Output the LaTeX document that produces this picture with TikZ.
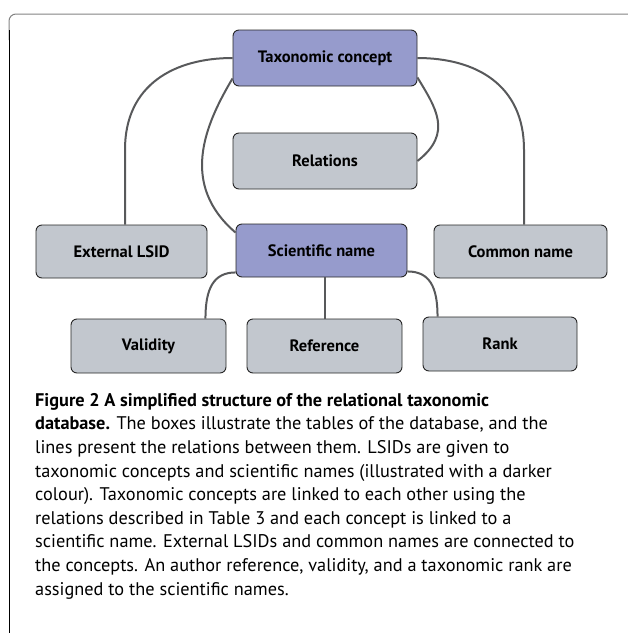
\documentclass[tikz,border=0pt]{standalone}
\usepackage{fontspec}
\setmainfont{PT Sans}
\usetikzlibrary{calc}
\definecolor{boxdark}{RGB}{150,155,204}
\definecolor{boxlight}{RGB}{194,199,206}
\definecolor{linkgray}{RGB}{88,89,91}
\definecolor{framegray}{RGB}{130,130,130}
\tikzset{
  tbl/.style={draw=black!85, line width=0.9pt, rounded corners=6pt, fill=boxlight,
    font=\fontsize{16.5}{18}\selectfont\bfseries, inner sep=0pt},
  tbldark/.style={tbl, fill=boxdark},
  lnk/.style={linkgray, line width=2pt},
  capt/.style={font=\fontsize{18.3}{23.6}\selectfont, align=left, inner sep=0pt},
}

\begin{document}
\begin{tikzpicture}[x=1pt,y=-1pt]
  \useasboundingbox (0,0) rectangle (628,633);
  % frame
  \draw[framegray, line width=1pt, rounded corners=7pt] (9,40) -- (9,14) -- (628,14);
  \draw[black, line width=1pt] (9,30) -- (9,633);
  % tables
  \node[tbldark, minimum width=184pt, minimum height=56pt] (tc) at (325,58) {Taxonomic concept};
  \node[tbl, minimum width=184pt, minimum height=56pt] (rel) at (325,161) {Relations};
  \node[tbl, minimum width=171pt, minimum height=53pt] (elsid) at (121.5,251.5) {External LSID};
  \node[tbldark, minimum width=171pt, minimum height=53pt] (sn) at (321.5,250.5) {Scientific name};
  \node[tbl, minimum width=173pt, minimum height=53pt] (cname) at (520.5,251.5) {Common name};
  \node[tbl, minimum width=155pt, minimum height=54pt] (valid) at (148.5,346) {Validity};
  \node[tbl, minimum width=155pt, minimum height=54pt] (ref) at (324.5,346) {Reference};
  \node[tbl, minimum width=154pt, minimum height=54pt] (rank) at (500,344) {Rank};
  % relations between tables
  \draw[lnk] (tc.west) .. controls +(-58,0) and +(0,-65) .. ($(elsid.north)+(3.5,-75)$) -- ($(elsid.north)+(3.5,0)$);
  \draw[lnk] (tc.east) .. controls +(58,0) and +(0,-65) .. ($(cname.north)+(3.5,-75)$) -- ($(cname.north)+(3.5,0)$);
  \draw[lnk] ($(tc.south west)+(0,-8)$) .. controls +(-28,47) and +(-56,-48) .. ($(sn.north west)+(0,9)$);
  \draw[lnk] ($(tc.south east)+(0,-9)$) .. controls +(18,30) and +(36,-28) .. (rel.east);
  \draw[lnk] ($(sn.south west)+(0,-5)$) .. controls +(-22,0) and +(0,-30) .. ($(valid.north east)+(-21,0)$);
  \draw[lnk] (ref.north |- sn.south) -- (ref.north);
  \draw[lnk] ($(sn.south east)+(0,-6)$) .. controls +(22,0) and +(0,-30) .. ($(rank.north west)+(15,0)$);
  % caption
  \node[capt, anchor=north west] (cap) at (35,393) {%
    \textbf{Figure 2 A simplified structure of the relational taxonomic}\\
    \textbf{database.} The boxes illustrate the tables of the database, and the\\
    lines present the relations between them. LSIDs are given to\\
    taxonomic concepts and scientific names (illustrated with a darker\\
    colour). Taxonomic concepts are linked to each other using the\\
    relations described in Table 3 and each concept is linked to a\\
    scientific name. External LSIDs and common names are connected to\\
    the concepts. An author reference, validity, and a taxonomic rank are\\
    assigned to the scientific names.};
\end{tikzpicture}
\end{document}
